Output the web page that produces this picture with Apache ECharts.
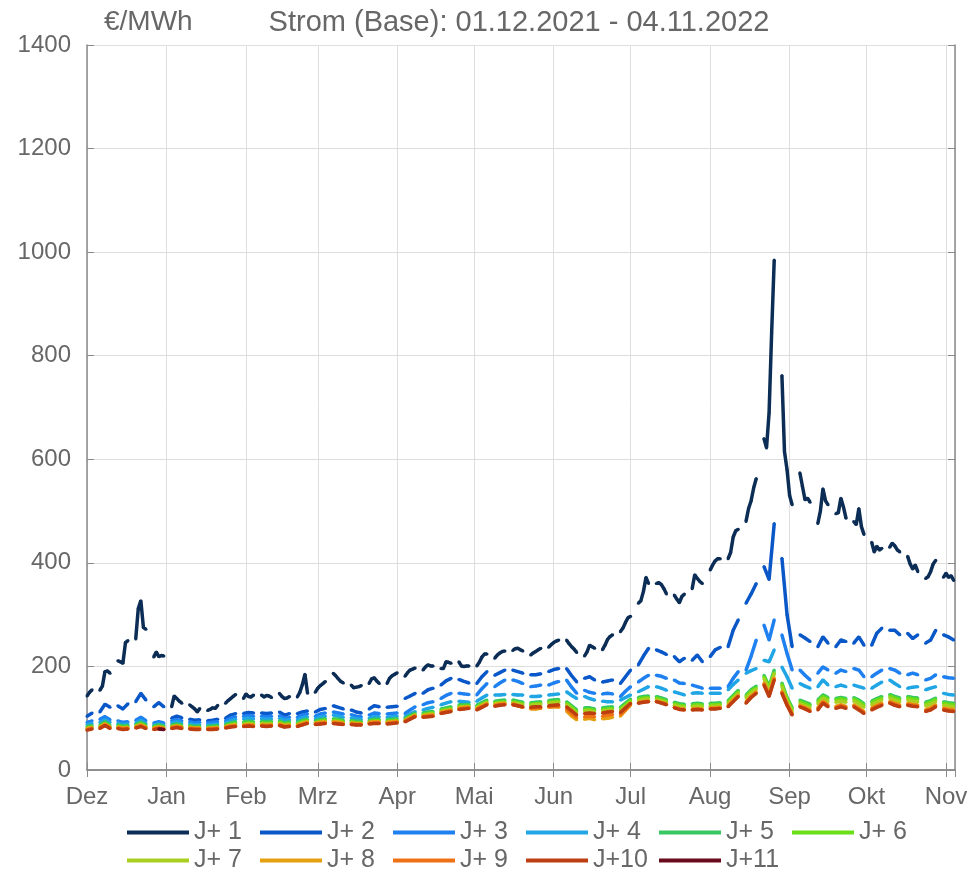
<!DOCTYPE html>
<html>
<head>
<meta charset="utf-8">
<script src="https://cdn.jsdelivr.net/npm/echarts@6.0.0/dist/echarts.min.js"></script>
<style>
  html, body { margin: 0; padding: 0; background: #fff; }
  #chart { width: 980px; height: 872px; }
</style>
</head>
<body>
<div id="chart"></div>
<script>
// Monatsnamen der x-Achse
const monthNames = ['Jan', 'Feb', 'Mrz', 'Apr', 'Mai', 'Jun', 'Jul', 'Aug', 'Sep', 'Okt', 'Nov', 'Dez'];
const seriesNames = ['J+ 1', 'J+ 2', 'J+ 3', 'J+ 4', 'J+ 5', 'J+ 6', 'J+ 7', 'J+ 8', 'J+ 9', 'J+10', 'J+11'];
const seriesColors = ['#0c2d55', '#0a58c8', '#1f80f0', '#20a5e5', '#36c862', '#6ade16', '#a9d020',
  '#e5a010', '#ee7215', '#bd3e10', '#6a0a1c'];
const yTicks = [0, 200, 400, 600, 800, 1000, 1200, 1400];

// J+1: jeder Handelstag (Mo-Fr), ab Mi 01.12.2021
const j1 = [
  143, 150, 155,
  154, 162, 190, 191, 187,   211, 209, 206, 246, 250,   253, 312, 327, 275, 272,   218, 228, 219, 221, 220,
  122, 143, 138, 133, 129,   126, 122, 118, 112, 119,   115, 117, 120, 119, 125,   129, 134, 138, 142, 146,
  138, 147, 142, 141, 145,   145, 141, 144, 143, 140,   148, 142, 138, 139, 142,   141, 150, 165, 185, 148,
  150, 158, 163, 167, 171,   187, 182, 176, 171, 168,   164, 159, 160, 161, 163,   167, 176, 178, 172, 167,
  167, 177, 182, 185, 188,   181, 188, 193, 195, 197,   193, 199, 203, 201, 201,   196, 196, 209, 208, 206,
  209, 201, 200, 201, 201,   201, 208, 218, 224, 224,   216, 222, 226, 229, 230,   231, 234, 235, 232, 230,
  222, 226, 229, 232, 235,   237, 242, 246, 249, 251,   251, 244, 238, 233, 227,   220, 228, 241, 238, 235,
  232, 241, 252, 258, 261,   267, 274, 285, 294, 297,   322, 327, 345, 372, 360,   360, 362, 358, 350, 340,
  338, 330, 323, 335, 340,   350, 377, 370, 364, 360,   386, 396, 404, 408, 408,   408, 420, 450, 462, 465,
  480, 505, 520, 545, 563,   640, 622, 690, 845, 985,   762, 615, 580, 530, 512,   574, 548, 522, 525, 517,
  476, 500, 543, 520, 512,   495, 497, 525, 508, 486,   480, 474, 505, 470, 455,   440, 421, 432, 425, 428,
  430, 438, 433, 425, 421,   413, 398, 388, 396, 383,   370, 373, 383, 398, 405,   372, 380, 372, 375, 366
];

// J+2 bis J+11: Mo/Mi/Fr, ab Mi 01.12.2021
const j2 = [
  104, 110,
  112, 127, 121,  124, 118, 128,  132, 148, 135,  122, 130, 122,  100, 104, 101,  98, 96, 97,
  95, 96, 98,  100, 106, 109,  109, 111, 110,  110, 109, 110,  112, 106, 109,  109, 112, 114,
  112, 117, 119,  124, 121, 118,  116, 112, 110,  118, 124, 122,  121, 122, 123,  138, 143, 148,
  148, 155, 158,  164, 172, 177,  175, 171, 168,  167, 180, 190,  183, 188, 193,  193, 190, 187,
  184, 184, 186,  190, 194, 196,  196, 182, 170,  177, 180, 174,  170, 172, 174,  167, 180, 193,
  203, 220, 235,  232, 228, 223,  219, 209, 216,  212, 222, 209,  219, 232, 237,  238, 270, 290,
  322, 340, 360,  393, 368, 476,  409, 300, 238,  261, 255, 248,  238, 257, 245,  238, 251, 248,
  245, 257, 241,  241, 264, 274,  270, 270, 261,  264, 254, 261,  245, 251, 270,  261, 257, 251
];
const j3 = [
  92, 95,
  98, 103, 97,  95, 92, 93,  96, 102, 95,  91, 93, 91,  95, 97, 95,  93, 91, 92,
  91, 92, 93,  95, 100, 103,  104, 105, 104,  104, 103, 104,  105, 100, 102,  102, 106, 108,
  104, 108, 110,  112, 110, 108,  107, 104, 103,  106, 110, 109,  108, 109, 110,  109, 116, 122,
  126, 130, 132,  138, 144, 148,  148, 147, 146,  145, 157, 167,  161, 168, 174,  174, 171, 167,
  161, 162, 164,  164, 168, 171,  174, 160, 148,  154, 150, 148,  147, 148, 147,  142, 152, 161,
  170, 177, 183,  183, 181, 177,  174, 168, 167,  164, 161, 158,  158, 158, 158,  161, 177, 190,
  193, 220, 251,  280, 251, 290,  261, 225, 193,  193, 183, 174,  187, 199, 193,  187, 193, 190,
  196, 193, 180,  180, 187, 193,  196, 193, 187,  184, 187, 184,  174, 177, 184,  180, 178, 177
];
const j4 = [
  88, 90,
  92, 97, 92,  90, 88, 89,  91, 96, 90,  87, 89, 87,  91, 93, 91,  89, 87, 88,
  87, 88, 89,  91, 95, 98,  99, 100, 99,  99, 98, 99,  100, 96, 97,  97, 101, 103,
  99, 103, 104,  106, 104, 102,  101, 99, 98,  100, 103, 103,  102, 103, 104,  103, 108, 113,
  116, 119, 121,  126, 129, 132,  133, 132, 131,  133, 139, 145,  145, 145, 146,  146, 145, 145,
  142, 142, 143,  145, 146, 147,  151, 144, 138,  142, 138, 135,  133, 132, 132,  135, 140, 145,
  151, 156, 161,  161, 158, 154,  151, 148, 145,  148, 149, 148,  148, 148, 148,  155, 165, 174,
  187, 192, 196,  212, 209, 232,  199, 180, 158,  167, 162, 158,  161, 174, 164,  161, 164, 161,
  164, 161, 158,  158, 164, 170,  174, 167, 161,  158, 160, 161,  155, 158, 161,  148, 146, 145
];
const j5 = [
  84, 86,
  87, 93, 87,  87, 85, 86,  88, 92, 87,  85, 87, 85,  87, 89, 87,  86, 84, 85,
  84, 85, 86,  88, 91, 93,  93, 94, 93,  94, 93, 94,  95, 91, 93,  92, 96, 98,
  95, 97, 99,  99, 98, 96,  96, 94, 94,  96, 98, 98,  97, 98, 99,  100, 105, 110,
  110, 112, 113,  118, 120, 122,  126, 126, 127,  125, 130, 135,  133, 134, 135,  135, 133, 131,
  130, 131, 132,  134, 135, 136,  132, 124, 116,  120, 120, 118,  120, 121, 122,  121, 129, 137,
  140, 142, 143,  142, 139, 136,  131, 128, 127,  128, 129, 128,  129, 129, 130,  134, 144, 154,
  145, 155, 162,  183, 161, 193,  168, 140, 120,  135, 131, 127,  135, 145, 140,  138, 140, 138,
  140, 135, 128,  133, 138, 142,  146, 142, 139,  142, 140, 139,  131, 134, 139,  132, 130, 129
];
const j6 = [
  81, 83,
  84, 90, 84,  84, 82, 83,  85, 89, 84,  82, 84, 82,  84, 86, 84,  83, 81, 82,
  81, 82, 83,  85, 88, 90,  90, 91, 90,  91, 90, 91,  92, 88, 90,  89, 93, 95,
  92, 94, 96,  96, 95, 93,  93, 91, 91,  93, 95, 95,  94, 95, 96,  97, 102, 107,
  107, 109, 110,  115, 117, 119,  123, 123, 124,  122, 127, 132,  130, 131, 132,  132, 130, 128,
  127, 128, 129,  131, 132, 133,  129, 121, 113,  117, 117, 115,  117, 118, 119,  118, 126, 134,
  137, 139, 140,  139, 136, 133,  128, 125, 124,  125, 126, 125,  126, 126, 127,  131, 141, 151,
  142, 152, 159,  180, 158, 188,  165, 137, 117,  132, 128, 124,  132, 142, 137,  135, 137, 135,
  137, 132, 125,  130, 135, 139,  143, 139, 136,  139, 137, 136,  128, 131, 136,  129, 127, 126
];
const j7 = [
  79, 81,
  82, 88, 82,  82, 80, 81,  83, 87, 82,  80, 82, 80,  82, 84, 82,  81, 79, 80,
  79, 80, 81,  83, 86, 88,  88, 89, 88,  89, 88, 89,  90, 86, 88,  87, 91, 93,
  90, 92, 94,  94, 93, 91,  91, 89, 89,  91, 93, 93,  92, 93, 94,  95, 100, 105,
  105, 107, 108,  113, 115, 117,  121, 121, 122,  120, 125, 130,  128, 129, 130,  130, 128, 126,
  125, 126, 127,  129, 130, 131,  126, 118, 110,  114, 114, 112,  114, 115, 116,  115, 123, 131,
  134, 136, 137,  136, 133, 130,  125, 122, 121,  122, 123, 122,  123, 123, 124,  128, 138, 148,
  139, 149, 156,  176, 154, 186,  161, 133, 113,  128, 124, 120,  128, 138, 133,  131, 133, 131,
  133, 128, 121,  126, 131, 135,  139, 135, 132,  135, 133, 132,  124, 127, 132,  125, 123, 122
];
const j8 = [
  80, 82,
  83, 89, 83,  83, 81, 82,  84, 87, 83,  81, 83, 81,  83, 85, 83,  82, 81, 81,
  81, 81, 82,  84, 86, 87,  87, 88, 87,  88, 87, 88,  89, 86, 87,  87, 90, 93,
  91, 92, 93,  93, 92, 91,  91, 90, 90,  92, 93, 93,  92, 93, 94,  96, 101, 106,
  105, 106, 107,  112, 114, 116,  120, 121, 122,  119, 124, 129,  126, 128, 129,  128, 125, 121,
  118, 118, 119,  121, 122, 121,  114, 104, 97,  98, 100, 97,  99, 100, 102,  104, 115, 126,
  130, 132, 133,  133, 130, 127,  121, 118, 117,  118, 119, 118,  120, 120, 121,  125, 135, 145,
  132, 143, 151,  168, 146, 178,  152, 128, 109,  125, 121, 116,  120, 133, 126,  123, 126, 123,
  126, 120, 113,  120, 125, 129,  133, 129, 126,  129, 127, 126,  117, 120, 126,  120, 118, 117
];
const j9 = [
  78, 80,
  81, 87, 81,  81, 79, 80,  82, 85, 81,  79, 81, 79,  81, 83, 81,  80, 79, 79,
  79, 79, 80,  82, 84, 85,  85, 86, 85,  86, 85, 86,  87, 84, 85,  85, 88, 91,
  89, 90, 91,  91, 90, 89,  89, 88, 88,  90, 91, 91,  90, 91, 92,  94, 99, 104,
  103, 104, 105,  110, 112, 114,  118, 119, 120,  117, 122, 127,  124, 126, 127,  127, 124, 121,
  119, 120, 120,  122, 123, 123,  118, 109, 101,  103, 104, 103,  104, 106, 107,  107, 117, 127,
  130, 132, 133,  133, 130, 127,  121, 118, 117,  117, 118, 117,  119, 119, 120,  123, 133, 143,
  130, 141, 149,  166, 144, 176,  150, 126, 107,  123, 119, 114,  118, 131, 124,  121, 124, 121,
  124, 118, 111,  118, 123, 127,  131, 127, 124,  127, 125, 124,  115, 118, 124,  118, 116, 115
];
const j10 = [
  77, 79,
  80, 86, 80,  80, 78, 79,  81, 84, 80,  78, 80, 78,  80, 82, 80,  79, 78, 78,
  78, 78, 79,  81, 83, 84,  84, 85, 84,  85, 84, 85,  86, 83, 84,  84, 87, 90,
  88, 89, 90,  90, 89, 88,  88, 87, 87,  89, 90, 90,  89, 90, 91,  93, 98, 103,
  102, 103, 104,  109, 111, 113,  117, 118, 119,  116, 121, 126,  123, 125, 126,  126, 124, 122,
  121, 122, 122,  124, 125, 126,  122, 114, 106,  109, 110, 109,  110, 112, 113,  111, 120, 129,
  129, 131, 132,  132, 129, 126,  120, 117, 116,  116, 117, 116,  118, 118, 119,  122, 132, 142,
  129, 140, 148,  164, 142, 174,  148, 125, 106,  122, 118, 113,  116, 129, 122,  119, 122, 119,
  122, 116, 109,  116, 121, 125,  129, 125, 122,  125, 123, 122,  113, 116, 122,  116, 114, 113
];
// J+11 nur Ende Dezember 2021 notiert
const j11 = [
  null, null,
  null, null, null,  null, null, null,  null, null, null,  null, 79, 78,  null, null, null,  null, null, null,
  null, null, null,  null, null, null,  null, null, null,  null, null, null,  null, null, null,  null, null, null,
  null, null, null,  null, null, null,  null, null, null,  null, null, null,  null, null, null,  null, null, null,
  null, null, null,  null, null, null,  null, null, null,  null, null, null,  null, null, null,  null, null, null,
  null, null, null,  null, null, null,  null, null, null,  null, null, null,  null, null, null,  null, null, null,
  null, null, null,  null, null, null,  null, null, null,  null, null, null,  null, null, null,  null, null, null,
  null, null, null,  null, null, null,  null, null, null,  null, null, null,  null, null, null,  null, null, null,
  null, null, null,  null, null, null,  null, null, null,  null, null, null,  null, null, null,  null, null, null
];

const DAY = 86400000;
const startDate = Date.UTC(2021, 11, 1);
const endDate = Date.UTC(2022, 10, 4);

// Handelstage bestimmen
const allDays = [];
const mwfDays = [];
for (let t = startDate; t <= endDate; t += DAY) {
  const wd = new Date(t).getUTCDay();
  if (wd >= 1 && wd <= 5) allDays.push(t);
  if (wd === 1 || wd === 3 || wd === 5) mwfDays.push(t);
}

// Punkte bauen, am Wochenende Lücke lassen
function buildData(days, values) {
  const out = [];
  days.forEach((t, i) => {
    out.push([t, values[i]]);
    if (new Date(t).getUTCDay() === 5) out.push([t + DAY, null]);
  });
  return out;
}

const allValues = [j1, j2, j3, j4, j5, j6, j7, j8, j9, j10, j11];

const chartInstance = echarts.init(document.getElementById('chart'), null, { renderer: 'canvas' });

const textColor = '#676767';
const axisColor = '#8a8a8a';
const gridColor = '#dedede';
const fontFamily = 'Liberation Sans, Arial, sans-serif';

const xMin = startDate;
const xMax = endDate + DAY / 2;

const option = {
  animation: false,
  useUTC: true,
  backgroundColor: '#fff',
  textStyle: { fontFamily: fontFamily },
  title: [
    {
      text: 'Strom (Base): 01.12.2021 - 04.11.2022',
      left: 519,
      textAlign: 'center',
      top: 8,
      padding: 0,
      textStyle: { fontSize: 29, fontWeight: 'normal', color: textColor, fontFamily: fontFamily }
    },
    {
      text: '€/MWh',
      left: 104,
      top: 8,
      padding: 0,
      textStyle: { fontSize: 28, fontWeight: 'normal', color: textColor, fontFamily: fontFamily }
    }
  ],
  grid: { left: 87, right: 25, top: 45, bottom: 102, containLabel: false },
  legend: {
    left: 127,
    top: 820,
    width: 830,
    padding: 0,
    icon: 'rect',
    itemWidth: 62,
    itemHeight: 4,
    itemGap: 3,
    data: seriesNames,
    textStyle: { fontSize: 25, lineHeight: 25, color: textColor, fontFamily: fontFamily, width: 63 }
  },
  xAxis: [
    {
      type: 'time',
      min: xMin,
      max: xMax,
      splitNumber: 12,
      minInterval: 28 * DAY,
      maxInterval: 31 * DAY,
      axisLine: { show: true, lineStyle: { color: axisColor, width: 1.5 } },
      axisTick: { show: true, inside: true, length: 7, lineStyle: { color: axisColor } },
      splitLine: { show: true, lineStyle: { color: gridColor, width: 1 } },
      axisLabel: {
        color: textColor,
        fontSize: 24,
        margin: 15,
        showMaxLabel: false,
        hideOverlap: false,
        formatter: function (value) {
          return monthNames[new Date(value).getUTCMonth()];
        }
      }
    },
    {
      type: 'time',
      position: 'top',
      min: xMin,
      max: xMax,
      splitNumber: 12,
      minInterval: 28 * DAY,
      maxInterval: 31 * DAY,
      axisLine: { show: true, lineStyle: { color: axisColor, width: 1.5 } },
      axisTick: { show: true, inside: true, length: 7, lineStyle: { color: axisColor } },
      splitLine: { show: false },
      axisLabel: { show: false }
    }
  ],
  yAxis: [
    {
      type: 'value',
      min: yTicks[0],
      max: yTicks[yTicks.length - 1],
      interval: 200,
      axisLine: { show: true, lineStyle: { color: axisColor, width: 1.5 } },
      axisTick: { show: true, inside: true, length: 7, lineStyle: { color: axisColor } },
      splitLine: { show: true, lineStyle: { color: gridColor, width: 1 } },
      axisLabel: {
        color: textColor,
        fontSize: 24,
        margin: 16,
        formatter: function (value) { return String(value); }
      }
    },
    {
      type: 'value',
      position: 'right',
      min: yTicks[0],
      max: yTicks[yTicks.length - 1],
      interval: 200,
      axisLine: { show: true, lineStyle: { color: axisColor, width: 1.5 } },
      axisTick: { show: true, inside: true, length: 7, lineStyle: { color: axisColor } },
      splitLine: { show: false },
      axisLabel: { show: false }
    }
  ],
  series: allValues.map((vals, i) => ({
    name: seriesNames[i],
    type: 'line',
    xAxisIndex: 0,
    yAxisIndex: 0,
    data: buildData(i === 0 ? allDays : mwfDays, vals),
    connectNulls: false,
    symbol: 'circle',
    symbolSize: 3,
    showSymbol: true,
    lineStyle: { color: seriesColors[i], width: 3.5 },
    itemStyle: { color: seriesColors[i] },
    emphasis: { disabled: true },
    z: 2 + i
  }))
};

chartInstance.setOption(option);
</script>
</body>
</html>
